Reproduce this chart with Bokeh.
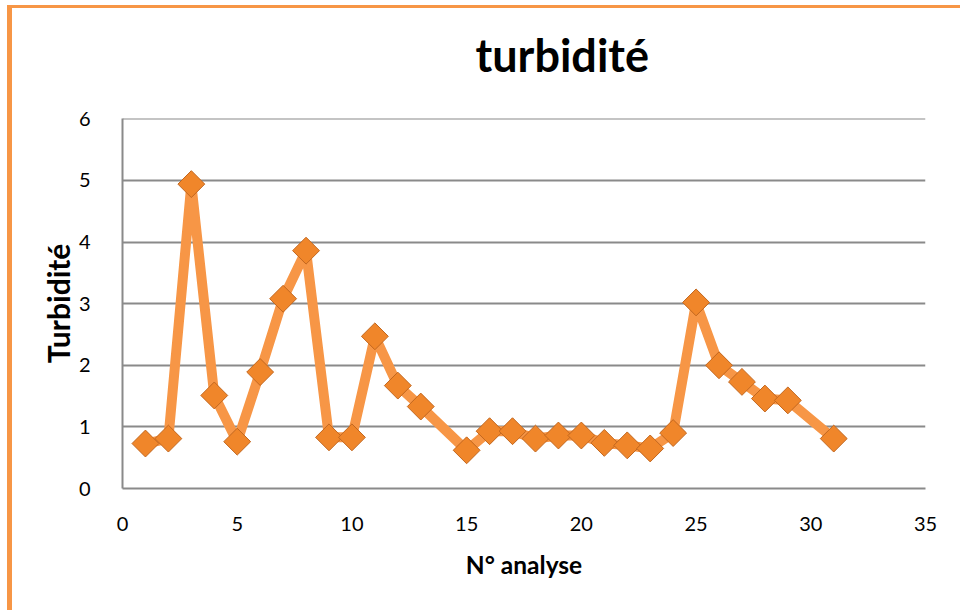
import math
from bokeh.plotting import figure
from bokeh.layouts import column
from bokeh.models import ColumnDataSource, Range1d, Title, FixedTicker
from bokeh.embed import file_html
from bokeh.resources import INLINE

analyse = [1, 2, 3, 4, 5, 6, 7, 8, 9, 10, 11, 12, 13, 15, 16, 17, 18, 19, 20,
           21, 22, 23, 24, 25, 26, 27, 28, 29, 31]
turbidite = [0.73, 0.81, 4.94, 1.51, 0.76, 1.89, 3.08, 3.86, 0.83, 0.83, 2.47,
             1.67, 1.33, 0.62, 0.93, 0.93, 0.81, 0.86, 0.86, 0.74, 0.70, 0.65,
             0.90, 3.02, 2.00, 1.73, 1.46, 1.43, 0.81]
x_ticks = [0, 5, 10, 15, 20, 25, 30, 35]
y_ticks = [0, 1, 2, 3, 4, 5, 6]
title_text = "turbidité"
x_title = "N° analyse"
y_title = "Turbidité"

FONT = "Lato"
GRID = "#8a8a8a"

src = ColumnDataSource(dict(x=analyse, y=turbidite))

p = figure(width=948, height=602, output_backend="svg", toolbar_location=None,
           x_range=Range1d(0, 35), y_range=Range1d(0, 6.005),
           min_border_left=110, min_border_right=35, min_border_top=110,
           min_border_bottom=122)
p.outline_line_color = None

# spacer panel between the frame and the title
spacer = Title(text=" ", standoff=34, text_font_size="1px")
p.add_layout(spacer, "above")

p.title.text = title_text
p.title.align = "left"
p.title.offset = 353
p.title.standoff = 0
p.title.text_font = FONT
p.title.text_font_size = "45px"
p.title.text_font_style = "bold"
p.title.text_color = "black"

p.xaxis.ticker = FixedTicker(ticks=x_ticks)
p.yaxis.ticker = FixedTicker(ticks=y_ticks)
for ax in (p.xaxis[0], p.yaxis[0]):
    ax.axis_line_color = GRID
    ax.axis_line_width = 2
    ax.major_tick_line_color = None
    ax.minor_tick_line_color = None
    ax.major_label_text_font = FONT
    ax.major_label_text_font_size = "20px"
    ax.major_label_text_color = "black"
    ax.axis_label_text_font = FONT
    ax.axis_label_text_font_style = "bold"
    ax.axis_label_text_color = "black"
p.xaxis.axis_label = x_title
p.yaxis.axis_label = y_title
p.xaxis.axis_label_text_font_size = "24.5px"
p.yaxis.axis_label_text_font_size = "30px"
p.xaxis.major_label_standoff = 22
p.yaxis.major_label_standoff = 26
p.xaxis.axis_label_standoff = 16
p.yaxis.axis_label_standoff = 0

p.xgrid.grid_line_color = None
p.ygrid.grid_line_color = GRID
p.ygrid.grid_line_width = 2

p.line("x", "y", source=src, line_color="#f79646", line_width=10,
       line_join="round")
p.scatter("x", "y", source=src, marker="square", size=19, angle=math.pi / 4,
          fill_color="#f0862a", line_color="#c2671f", line_width=1)

layout = column(p, styles={"border-left": "5px solid #f79646",
                           "border-top": "3px solid #f79646",
                           "margin-left": "7px", "margin-top": "5px"})

open("out.html", "w").write(file_html(layout, INLINE))
